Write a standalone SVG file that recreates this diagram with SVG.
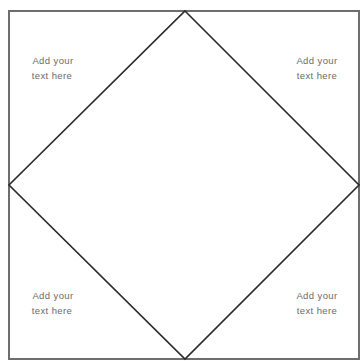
<svg xmlns="http://www.w3.org/2000/svg" width="362" height="361" viewBox="0 0 362 361">
<style>
.frame{fill:#fff;stroke:#6e6e6e;stroke-width:2}
.dia{fill:none;stroke:#2a2a2a;stroke-width:1.6;stroke-linejoin:miter}
.t{font-family:"Liberation Sans",Arial,sans-serif;font-size:9.5px;letter-spacing:0.4px;fill:#6a6a6a;text-anchor:middle}
</style>
<rect width="362" height="361" fill="#fff"/>
<g id="frame"><rect class="frame" x="9" y="11" width="350" height="348"/></g>
<g id="connectors"><polygon class="dia" points="185,11 359,185 185,359 9,185"/></g>
<g id="tl"><text class="t" x="53" y="64">Add your</text><text class="t" x="52" y="79">text here</text></g>
<g id="tr"><text class="t" x="317" y="64">Add your</text><text class="t" x="317" y="79">text here</text></g>
<g id="bl"><text class="t" x="53" y="299">Add your</text><text class="t" x="52" y="314">text here</text></g>
<g id="br"><text class="t" x="317" y="299">Add your</text><text class="t" x="317" y="314">text here</text></g>
</svg>
